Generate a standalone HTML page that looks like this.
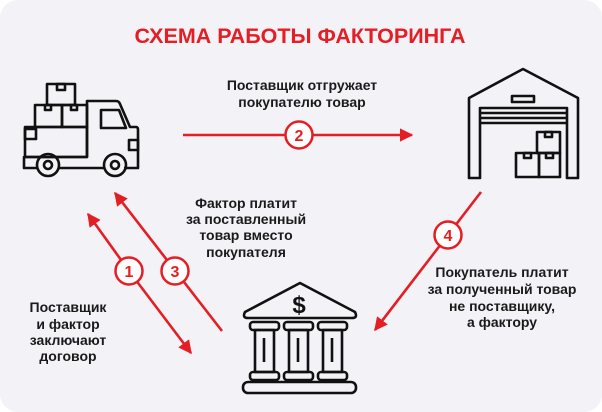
<!DOCTYPE html>
<html><head><meta charset="utf-8"><style>
html,body{margin:0;padding:0;background:#fff;}
svg{display:block;}
text{font-family:"Liberation Sans",sans-serif;font-weight:bold;}
</style></head><body>
<svg width="602" height="412" viewBox="0 0 602 412" xmlns="http://www.w3.org/2000/svg">
<defs>
<marker id="ah" viewBox="0 0 10 10" refX="9" refY="5" markerWidth="5.2" markerHeight="5.2" orient="auto" markerUnits="strokeWidth">
<path d="M0,0 L10,5 L0,10 z" fill="#e31e24"/></marker>
</defs>
<rect x="0" y="0" width="602" height="412" rx="18" fill="#f2f2f7"/>
<text x="300" y="43" text-anchor="middle" font-size="21.5" fill="#e31e24">СХЕМА РАБОТЫ ФАКТОРИНГА</text>

<text x="302" y="90" text-anchor="middle" font-size="14" fill="#1a1a1a">Поставщик отгружает</text>
<text x="302" y="107" text-anchor="middle" font-size="14" fill="#1a1a1a">покупателю товар</text>

<g stroke="#e31e24" stroke-width="2.6" fill="none">
<line x1="183" y1="135" x2="412" y2="135" marker-end="url(#ah)"/>
<line x1="129" y1="271" x2="88" y2="214" marker-end="url(#ah)"/>
<line x1="129" y1="271" x2="191" y2="353" marker-end="url(#ah)"/>
<line x1="222" y1="331" x2="115" y2="193" marker-end="url(#ah)"/>
<line x1="481" y1="192" x2="375" y2="330" marker-end="url(#ah)"/>
</g>
<g stroke="#e31e24" stroke-width="2.5" fill="#fff">
<circle cx="299" cy="135" r="13.5"/>
<circle cx="129" cy="271" r="13.5"/>
<circle cx="175" cy="271" r="13.5"/>
<circle cx="448" cy="235" r="13.5"/>
</g>
<g font-size="16" fill="#e31e24" text-anchor="middle">
<text x="299" y="141">2</text>
<text x="129" y="277">1</text>
<text x="175" y="277">3</text>
<text x="448" y="241">4</text>
</g>

<g font-size="14" fill="#1a1a1a" text-anchor="middle">
<text x="246" y="208">Фактор платит</text>
<text x="246" y="224">за поставленный</text>
<text x="246" y="240">товар вместо</text>
<text x="246" y="257">покупателя</text>
<text x="502" y="277">Покупатель платит</text>
<text x="502" y="294">за полученный товар</text>
<text x="502" y="311">не поставщику,</text>
<text x="502" y="327">а фактору</text>
<text x="68" y="312">Поставщик</text>
<text x="68" y="329">и фактор</text>
<text x="68" y="345">заключают</text>
<text x="68" y="361">договор</text>
</g>

<!-- truck -->
<g stroke="#111" stroke-width="2.6" fill="none" stroke-linejoin="round">
<rect x="47" y="84" width="28" height="21"/>
<rect x="57" y="84" width="8" height="6"/>
<rect x="35" y="105" width="27" height="22"/>
<rect x="62" y="105" width="25" height="22"/>
<rect x="45" y="105" width="6" height="5"/>
<rect x="71" y="105" width="6" height="5"/>
<rect x="25" y="127" width="62" height="30"/>
<rect x="25" y="129" width="11" height="10"/>
<path d="M87,157 V101 H116 Q119,101 120,104 L130,127 H136 Q138,127 138,130 V168 H124"/>
<path d="M101,110 H119 L126,128 H101 Z"/>
<rect x="129" y="140" width="9" height="10"/>
<path d="M104,168 H59 M38,168 H24 V157 H87"/>
<circle cx="48" cy="165" r="11"/>
<circle cx="48" cy="165" r="4"/>
<circle cx="115" cy="165" r="11"/>
<circle cx="115" cy="165" r="4"/>
</g>

<!-- warehouse -->
<g stroke="#111" stroke-width="2.6" fill="none" stroke-linejoin="round">
<path d="M469,178 V98 L523,69 L578,98 V178 H567 V108 H480 V178 Z"/>
<rect x="512" y="96" width="22" height="6"/>
<line x1="480" y1="113" x2="567" y2="113"/>
<line x1="480" y1="118" x2="567" y2="118"/>
<line x1="480" y1="123" x2="567" y2="123"/>
<rect x="537" y="132" width="23" height="21"/>
<rect x="545" y="132" width="7" height="5"/>
<rect x="516" y="153" width="23" height="24"/>
<rect x="539" y="153" width="21" height="24"/>
<rect x="524" y="153" width="7" height="5"/>
<rect x="546" y="153" width="7" height="5"/>
</g>

<!-- bank -->
<g stroke="#111" stroke-width="2.6" fill="none" stroke-linejoin="round">
<path d="M300,283 L245,312 Q242,318 248,318 H352 Q358,318 355,312 Z"/>
<rect x="250" y="322" width="29" height="8" rx="3"/>
<rect x="284" y="322" width="29" height="8" rx="3"/>
<rect x="318" y="322" width="29" height="8" rx="3"/>
<rect x="255" y="330" width="19" height="42"/>
<rect x="289" y="330" width="19" height="42"/>
<rect x="323" y="330" width="19" height="42"/>
<line x1="264" y1="338" x2="264" y2="362"/>
<line x1="298" y1="338" x2="298" y2="362"/>
<line x1="332" y1="338" x2="332" y2="362"/>
<rect x="250" y="372" width="29" height="8" rx="3"/>
<rect x="284" y="372" width="29" height="8" rx="3"/>
<rect x="318" y="372" width="29" height="8" rx="3"/>
<rect x="243" y="382" width="113" height="11" rx="5"/>
</g>
<text x="299" y="313" text-anchor="middle" font-size="24" fill="#111" font-weight="normal">$</text>
</svg>
</body></html>
